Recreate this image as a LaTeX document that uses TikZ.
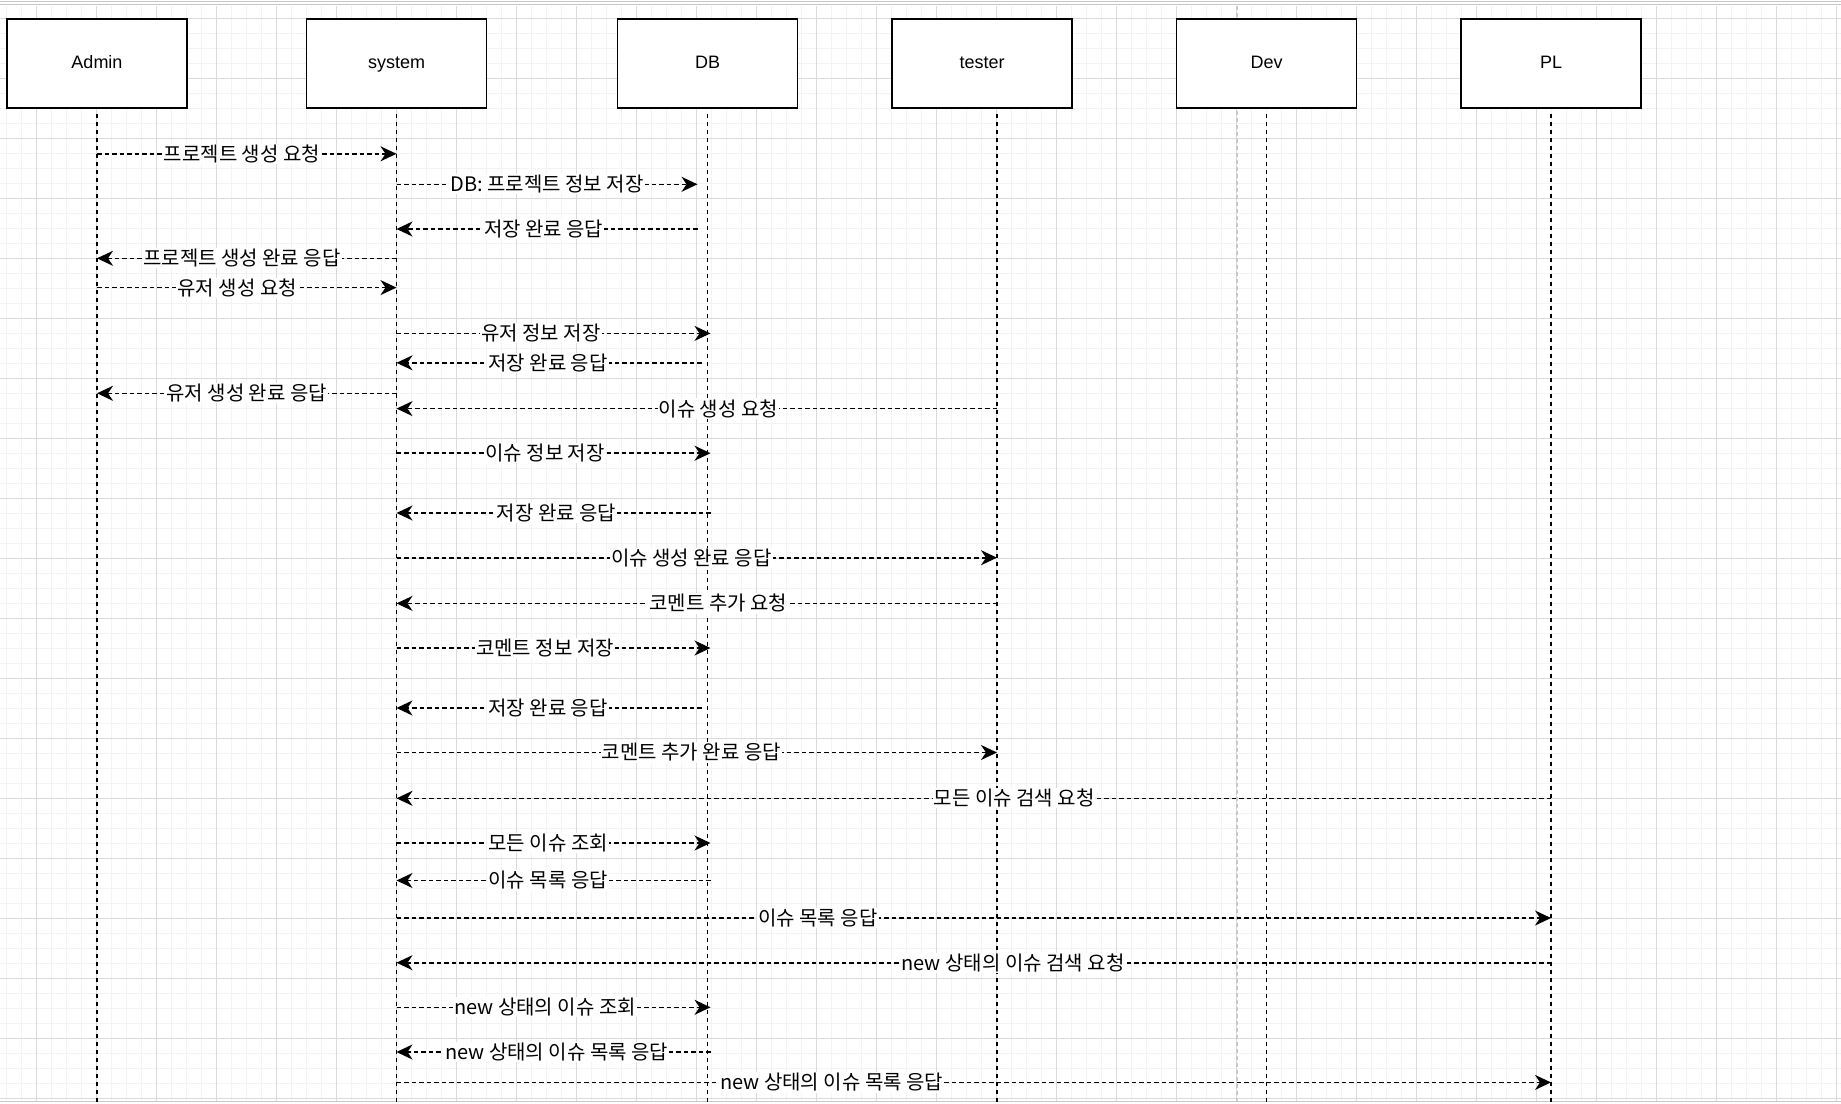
\documentclass[tikz,border=0pt]{standalone}
\usepackage{fontspec}
\setmainfont{Liberation Sans}
\newfontfamily\krfont{Noto Sans CJK KR}
\usetikzlibrary{arrows.meta}
\definecolor{gridminor}{HTML}{F3F3F3}
\definecolor{gridmajor}{HTML}{DADADA}
\definecolor{pagegray}{HTML}{C8C8C8}

\tikzset{
  actor/.style={draw, line width=1.6pt, fill=white, minimum width=180pt,
    minimum height=89pt, text height=13pt, text depth=4pt,
    font=\fontsize{18}{21}\selectfont},
  lifeline/.style={line width=1.6pt, dash pattern=on 4.5pt off 3.5pt},
  msg/.style={line width=1.6pt, dash pattern=on 4.5pt off 3pt,
    -{Stealth[length=16pt,width=15pt,inset=5pt]}},
  msglabel/.style={fill=white, inner sep=1pt,
    font=\krfont\fontsize{20}{23}\selectfont},
}

\begin{document}
\begin{tikzpicture}[x=1pt, y=-1pt]
  \useasboundingbox (0,0) rectangle (1841,1103);
  \fill[white] (0,0) rectangle (1841,1103);

  % Raster
  \foreach \x in {6,21,...,1836}
    \draw[gridminor, line width=1pt] (\x,6) -- (\x,1101);
  \foreach \y in {18.3,33.3,...,1098.3}
    \draw[gridminor, line width=1pt] (0,\y) -- (1841,\y);
  \foreach \x in {36,96,...,1836}
    \draw[gridmajor, line width=1pt] (\x,6) -- (\x,1101);
  \foreach \y in {18.3,78.3,...,1098.3}
    \draw[gridmajor, line width=1pt] (0,\y) -- (1841,\y);

  % Seitenrand
  \draw[pagegray, line width=1pt] (0,1.7) -- (1841,1.7);
  \draw[pagegray, line width=1pt] (0,4.3) -- (1841,4.3);
  \draw[pagegray, line width=1pt] (0,1101.5) -- (1841,1101.5);
  \draw[pagegray, line width=1.2pt, dash pattern=on 4pt off 3pt] (1237,6) -- (1237,1101);

  % Akteure
  \node[actor] (admin)  at (97,63.7)     {Admin};
  \node[actor] (sys)    at (396.5,63.7)  {system};
  \node[actor] (db)     at (707.5,63.7)  {DB};
  \node[actor] (tester) at (982,63.7)    {tester};
  \node[actor] (dev)    at (1266.5,63.7) {Dev};
  \node[actor] (pl)     at (1551,63.7)   {PL};

  % Lebenslinien
  \coordinate (la)  at ([yshift=-4.5pt]admin.south);
  \coordinate (ls)  at ([yshift=-4.5pt]sys.south);
  \coordinate (ld)  at ([yshift=-4.5pt]db.south);
  \coordinate (lt)  at ([xshift=15pt,yshift=-4.5pt]tester.south);
  \coordinate (ldv) at ([yshift=-4.5pt]dev.south);
  \coordinate (lp)  at ([yshift=-4.5pt]pl.south);
  \foreach \n in {la,ls,ld,lt,ldv,lp}
    \draw[lifeline] (\n) -- (\n |- 0,1103);

  % Nachrichten
  \foreach \a/\fs/\b/\ts/\y/\p/\t in {
      la/0/ls/0/153.8/0.484/프로젝트 생성 요청,
      ls/0/ld/-10/184.3/0.50/DB: 프로젝트 정보 저장,
      ld/-10/ls/0/229/0.511/저장 완료 응답,
      ls/0/la/0/258.3/0.516/프로젝트 생성 완료 응답,
      la/0/ls/0/287.6/0.468/유저 생성 요청,
      ls/0/ld/3/333.4/0.46/유저 정보 저장,
      ld/-6/ls/0/362.8/0.503/저장 완료 응답,
      ls/0/la/0/393.3/0.50/유저 생성 완료 응답,
      lt/0/ls/0/408.6/0.464/이슈 생성 요청,
      ls/0/ld/3/453.2/0.473/이슈 정보 저장,
      ld/3/ls/0/513/0.49/저장 완료 응답,
      ls/0/lt/0/557.7/0.491/이슈 생성 완료 응답,
      lt/0/ls/0/603.4/0.464/코멘트 추가 요청,
      ls/0/ld/3/648/0.473/코멘트 정보 저장,
      ld/-6/ls/0/708/0.503/저장 완료 응답,
      ls/0/lt/0/752.5/0.491/코멘트 추가 완료 응답,
      lp/0/ls/0/798.3/0.465/모든 이슈 검색 요청,
      ls/0/ld/3/843/0.483/모든 이슈 조회,
      ld/3/ls/0/880.5/0.517/이슈 목록 응답,
      ls/0/lp/0/918/0.365/이슈 목록 응답,
      lp/0/ls/0/962.7/0.466/new 상태의 이슈 검색 요청,
      ls/0/ld/3/1007.3/0.473/new 상태의 이슈 조회,
      ld/3/ls/0/1052/0.49/new 상태의 이슈 목록 응답,
      ls/0/lp/0/1082.4/0.377/new 상태의 이슈 목록 응답}
    \draw[msg] ([xshift=\fs pt]\a |- 0,\y) -- node[msglabel, pos=\p] {\t}
      ([xshift=\ts pt]\b |- 0,\y);

\end{tikzpicture}
\end{document}
